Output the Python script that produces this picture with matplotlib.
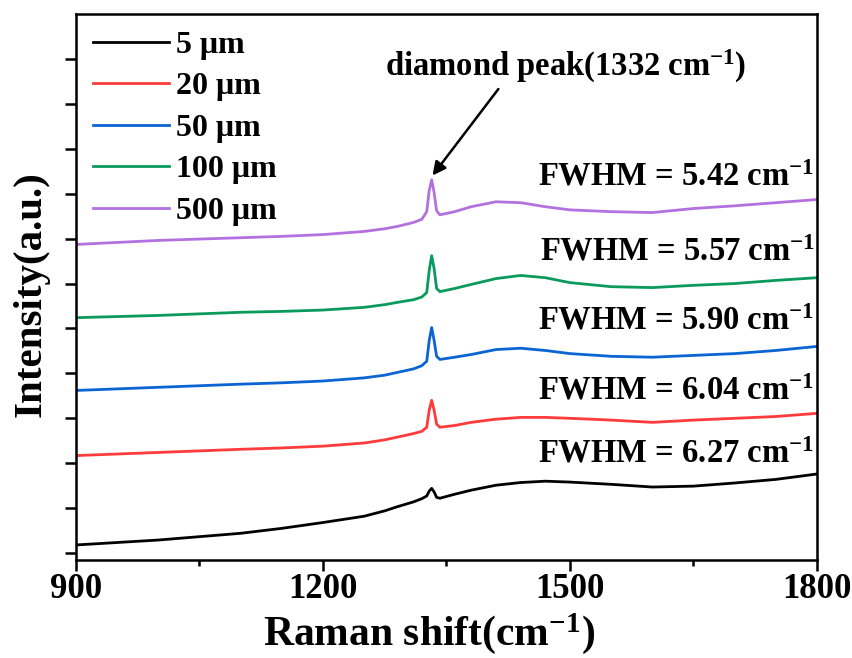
import matplotlib
matplotlib.use("Agg")
import matplotlib.pyplot as plt

plt.rcParams["font.family"] = ["Liberation Serif", "DejaVu Serif"]
plt.rcParams["font.weight"] = "bold"
plt.rcParams["mathtext.fontset"] = "custom"
plt.rcParams["mathtext.rm"] = "Liberation Serif:bold"
plt.rcParams["mathtext.bf"] = "Liberation Serif:bold"
plt.rcParams["mathtext.default"] = "bf"

# Raman shift (cm-1), shared by all spectra
shift = [900, 1000, 1100, 1150, 1200, 1250, 1275, 1290, 1310, 1320, 1326, 1329,
         1332, 1335, 1338, 1342, 1360, 1380, 1410, 1440, 1470, 1500, 1550, 1600,
         1650, 1700, 1750, 1800]

# stacked intensities (a.u., offset already included)
i_5 = [0.18, 0.29, 0.44, 0.55, 0.68, 0.82, 0.94, 1.03, 1.14, 1.21, 1.27, 1.38,
       1.44, 1.36, 1.24, 1.22, 1.31, 1.40, 1.51, 1.57, 1.60, 1.58, 1.53, 1.47,
       1.49, 1.56, 1.64, 1.76]
i_20 = [2.17, 2.24, 2.31, 2.34, 2.38, 2.45, 2.52, 2.58, 2.66, 2.71, 2.80, 3.18,
        3.40, 3.18, 2.87, 2.80, 2.84, 2.91, 2.98, 3.02, 3.02, 3.00, 2.96, 2.91,
        2.96, 3.00, 3.04, 3.11]
i_50 = [3.62, 3.69, 3.76, 3.79, 3.83, 3.90, 3.96, 4.02, 4.10, 4.17, 4.27, 4.73,
        5.02, 4.73, 4.38, 4.31, 4.36, 4.42, 4.53, 4.56, 4.51, 4.44, 4.38, 4.36,
        4.40, 4.44, 4.51, 4.60]
i_100 = [5.24, 5.29, 5.36, 5.38, 5.41, 5.47, 5.53, 5.58, 5.64, 5.70, 5.80, 6.29,
         6.62, 6.33, 5.89, 5.82, 5.89, 5.98, 6.11, 6.18, 6.13, 6.02, 5.93, 5.91,
         5.96, 6.00, 6.07, 6.13]
i_500 = [6.87, 6.96, 7.02, 7.05, 7.09, 7.16, 7.22, 7.27, 7.36, 7.43, 7.60, 8.07,
         8.31, 8.02, 7.62, 7.53, 7.60, 7.71, 7.82, 7.80, 7.71, 7.64, 7.60, 7.58,
         7.67, 7.73, 7.80, 7.87]

labels = ["5 μm", "20 μm", "50 μm", "100 μm", "500 μm"]
fwhm = ["6.27", "6.04", "5.90", "5.57", "5.42"]
colors = ["#000000", "#ff3b3b", "#0a64d2", "#0a9a5c", "#b371e0"]
series = [i_5, i_20, i_50, i_100, i_500]
fwhm_y = [2.2, 3.6, 5.16, 6.71, 8.38]

fig = plt.figure(figsize=(8.52, 6.58), dpi=100)
ax = fig.add_axes([0.0892, 0.1489, 0.8697, 0.8298])

for s, lab, c in zip(series, labels, colors):
    ax.plot(shift, s, color=c, lw=2.0, label=lab)

for txt, ty in zip(fwhm, fwhm_y):
    ax.text(1797, ty, "FWHM = " + txt + r" cm$^{-1}$", ha="right", va="center",
            fontsize=23.5, fontweight="bold")

ax.text(1495, 10.84, r"diamond peak(1332 cm$^{-1}$)", ha="center", va="center",
        fontsize=23.5, fontweight="bold")
ax.annotate("", xy=(1332, 8.38), xytext=(1413, 10.33),
            arrowprops=dict(arrowstyle="-|>", color="black", lw=1.8,
                            mutation_scale=20, shrinkA=0, shrinkB=1))

ax.set_xlim(900, 1800)
ax.set_ylim(-0.155, 12.0)
ax.set_xticks([900, 1200, 1500, 1800])
ax.set_xticks([1050, 1350, 1650], minor=True)
ax.set_yticks(range(0, 12))
ax.set_yticklabels([])
ax.tick_params(axis="both", which="major", direction="out", length=8, width=1.8)
ax.tick_params(axis="x", which="minor", direction="out", length=4, width=1.8)
ax.tick_params(axis="x", labelsize=25, pad=1)
for lbl in ax.get_xticklabels():
    lbl.set_fontweight("bold")
for sp in ax.spines.values():
    sp.set_linewidth(1.8)

ax.set_xlabel(r"Raman shift(cm$^{-1}$)", fontsize=30, fontweight="bold")
ax.xaxis.set_label_coords(0.476, -0.093)
ax.set_ylabel("Intensity(a.u.)", fontsize=29.5, fontweight="bold")
ax.yaxis.set_label_coords(-0.035, 0.487)

ax.legend(loc="upper left", bbox_to_anchor=(0.0, 1.0), frameon=False,
          handlelength=2.4, handletextpad=0.2, labelspacing=0.38,
          borderaxespad=0.1, borderpad=0.42,
          prop={"weight": "bold", "size": 23})

fig.savefig("out.png", dpi=100)
